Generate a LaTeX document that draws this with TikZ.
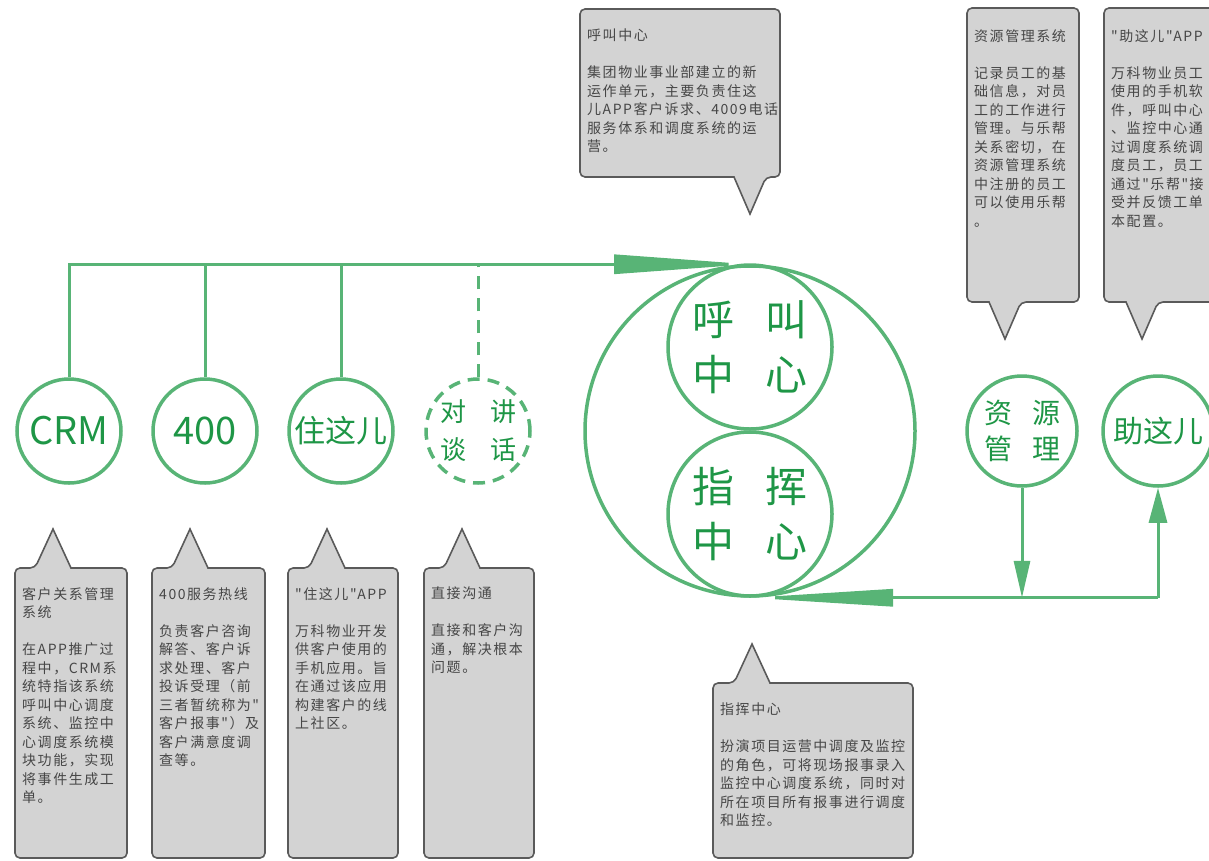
\documentclass[tikz,border=0pt]{standalone}
\usepackage{fontspec}
\setmainfont{Noto Sans CJK SC}
\newfontfamily\notefont[LetterSpace=11]{Noto Sans CJK SC}
\usetikzlibrary{arrows.meta}
\definecolor{lin}{RGB}{88,180,118}
\definecolor{txt}{RGB}{30,150,70}
\definecolor{boxfill}{RGB}{211,211,211}
\definecolor{boxline}{RGB}{90,90,90}
\definecolor{notetxt}{RGB}{70,70,70}

% callout with its pointer under the box: left, top, right, bottom, tip x
\newcommand{\tipbelow}[5]{%
  \draw[notebox] (#1,#2) -- (#3,#2) -- (#3,#4) -- (#5+16,#4) [sharp corners]
    -- (#5,#4+37) -- (#5-16,#4) [rounded corners=5pt] -- (#1,#4) -- cycle;}
% callout with its pointer over the box: left, top, right, bottom, tip x
\newcommand{\tipabove}[5]{%
  \draw[notebox] (#1,#4) -- (#1,#2) -- (#5-18,#2) [sharp corners]
    -- (#5,#2-39) -- (#5+18,#2) [rounded corners=5pt] -- (#3,#2) -- (#3,#4) -- cycle;}

\begin{document}
\begin{tikzpicture}[x=1pt,y=-1pt]
  \useasboundingbox (0,0) rectangle (1209,860);
  \tikzstyle{notebox} = [fill=boxfill, draw=boxline, line width=1.6pt, rounded corners=5pt]
  \tikzstyle{note} = [anchor=north west, inner sep=0pt, align=left, text=notetxt,
    font=\notefont\fontsize{14}{18.5}\selectfont]
  \tikzstyle{src} = [circle, draw=lin, line width=3.5pt, text=txt, inner sep=0pt,
    minimum size=104pt, font=\fontsize{31}{36}\selectfont]
  \tikzstyle{core} = [circle, draw=lin, line width=3.5pt, text=txt, inner sep=0pt,
    minimum size=164pt, align=center, font=\fontsize{42}{55}\selectfont]
  \tikzstyle{link} = [draw=lin, line width=3pt]

  % callouts
  \tipbelow{580}{9}{780}{177}{750}
  \tipbelow{967}{8}{1079}{302}{1005}
  \tipbelow{1104}{8}{1216}{302}{1142}
  \tipabove{15}{568}{127}{858}{53}
  \tipabove{152}{568}{265}{858}{190}
  \tipabove{288}{568}{398}{858}{327}
  \tipabove{424}{568}{534}{858}{462}
  \tipabove{713}{683}{913}{858}{752}

  \node[note] (callnote) at (587,29) {呼叫中心\\[18.5pt]集团物业事业部建立的新\\运作单元，主要负责住这\\儿APP客户诉求、4009电话\\服务体系和调度系统的运\\营。};
  \node[note] (resnote) at (974,29) {资源管理系统\\[18.5pt]记录员工的基\\础信息，对员\\工的工作进行\\管理。与乐帮\\关系密切，在\\资源管理系统\\中注册的员工\\可以使用乐帮\\。};
  \node[note] (aidnote) at (1111,29) {"助这儿"APP\\[18.5pt]万科物业员工\\使用的手机软\\件，呼叫中心\\、监控中心通\\过调度系统调\\度员工，员工\\通过"乐帮"接\\受并反馈工单\\本配置。};
  \node[note] (crmnote) at (22,587) {客户关系管理\\系统\\[18.5pt]在APP推广过\\程中，CRM系\\统特指该系统\\呼叫中心调度\\系统、监控中\\心调度系统模\\块功能，实现\\将事件生成工\\单。};
  \node[note] (hotnote) at (159,587) {400服务热线\\[18.5pt]负责客户咨询\\解答、客户诉\\求处理、客户\\投诉受理（前\\三者暂统称为"\\客户报事"）及\\客户满意度调\\查等。};
  \node[note] (zzrnote) at (295,587) {"住这儿"APP\\[18.5pt]万科物业开发\\供客户使用的\\手机应用。旨\\在通过该应用\\构建客户的线\\上社区。};
  \node[note] (talknote) at (431,587) {直接沟通\\[18.5pt]直接和客户沟\\通，解决根本\\问题。};
  \node[note] (cmdnote) at (720,703) {指挥中心\\[18.5pt]扮演项目运营中调度及监控\\的角色，可将现场报事录入\\监控中心调度系统，同时对\\所在项目所有报事进行调度\\和监控。};

  % circles
  \node[circle, draw=lin, line width=3.5pt, minimum size=330pt, inner sep=0pt] (hub) at (750,431) {};
  \node[core] (call) at (750,347) {呼\hspace{32pt}叫\\中\hspace{32pt}心};
  \node[core] (cmd) at (750,514) {指\hspace{32pt}挥\\中\hspace{32pt}心};
  \node[src, font=\fontsize{38}{40}\selectfont] (crm) at (69,431) {CRM};
  \node[src, font=\fontsize{38}{40}\selectfont] (hot) at (205,431) {400};
  \node[src] (zzr) at (341,431) {住这儿};
  \node[src, dash pattern=on 12pt off 8pt, align=center, font=\fontsize{26}{38}\selectfont] (talk) at (478,431) {对\hspace{24pt}讲\\谈\hspace{24pt}话};
  \node[src, minimum size=110pt, align=center, font=\fontsize{28}{36}\selectfont] (res) at (1022,431) {资\hspace{20pt}源\\管\hspace{20pt}理};
  \node[src, minimum size=110pt, font=\fontsize{30}{36}\selectfont] (aid) at (1158,431) {助这儿};

  % top bus
  \draw[link, -{Triangle[length=136pt,width=19pt]}] (crm.north) |- (hub.north);
  \foreach \n in {hot,zzr}
    \draw[link] (\n.north) -- (\n.north |- hub.north);
  \draw[link, dash pattern=on 13pt off 9pt] (talk.north) -- (talk.north |- hub.north);

  % bottom bus
  \coordinate (join) at (res.south |- hub.south);
  \coordinate (turn) at (aid.south |- hub.south);
  \draw[link, -{Triangle[length=37pt,width=16pt]}] (res.south) -- (join);
  \draw[link, -{Triangle[length=143pt,width=17pt]}] (turn) -- (hub.south);
  \draw[link, -{Triangle[length=35pt,width=18pt]}] (turn) -- (aid.south);
\end{tikzpicture}
\end{document}
